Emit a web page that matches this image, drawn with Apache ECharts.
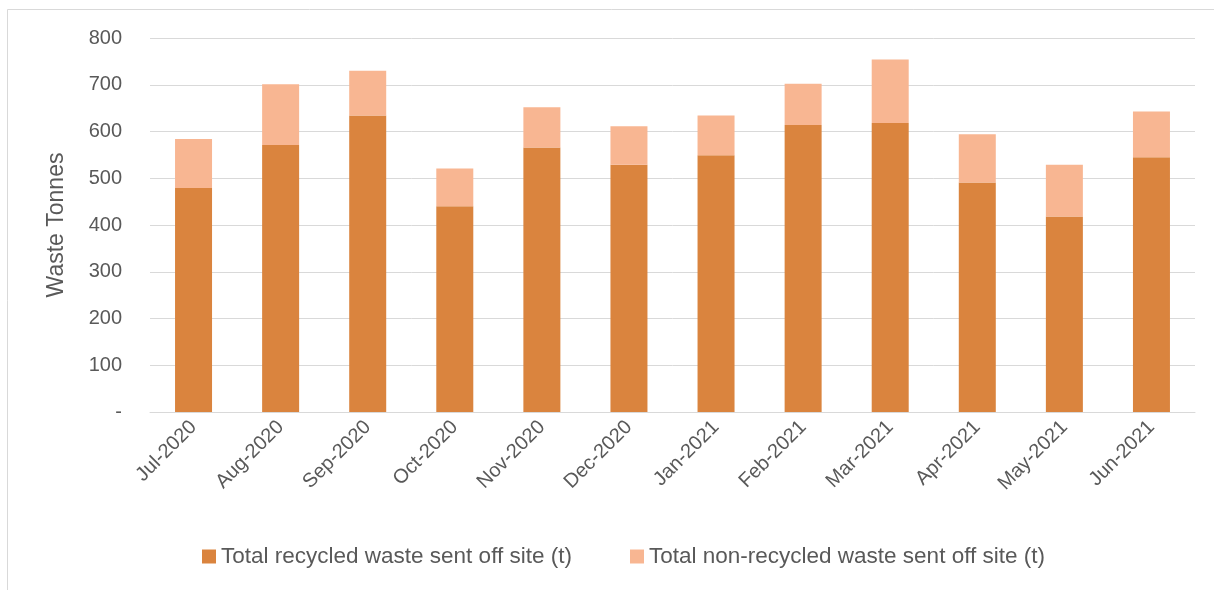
<!DOCTYPE html>
<html>
<head>
<meta charset="utf-8">
<script src="https://cdn.jsdelivr.net/npm/echarts@6/dist/echarts.min.js"></script>
<style>
  html, body { margin:0; padding:0; background:#fff; }
  #chart { width:1214px; height:590px; }
</style>
</head>
<body>
<div id="chart"></div>
<script>
var months = ['Jul-2020','Aug-2020','Sep-2020','Oct-2020','Nov-2020','Dec-2020',
              'Jan-2021','Feb-2021','Mar-2021','Apr-2021','May-2021','Jun-2021'];
var recycled = [479, 571, 634, 440, 566, 529, 549, 614, 618, 491, 418, 545];
var nonRecycled = [105, 130, 96, 81, 86, 82, 85, 88, 136, 103, 111, 98];
var yTicks = [0, 100, 200, 300, 400, 500, 600, 700, 800];

(function() {
  var font = '"Liberation Sans", "DejaVu Sans", sans-serif';
  var txt = '#595959';
  var rule = '#d9d9d9';

  var chart = echarts.init(document.getElementById('chart'), null, {renderer:'canvas'});
  chart.setOption({
    animation:false,
    backgroundColor:'#fff',
    textStyle:{fontFamily:font},
    graphic:[{
      type:'rect', left:5, top:7, silent:true,
      shape:{width:1230, height:600},
      style:{fill:'none', stroke:rule, lineWidth:1}
    }],
    legend:{
      data:['Total recycled waste sent off site (t)','Total non-recycled waste sent off site (t)'],
      bottom:17, left:197,
      itemWidth:14, itemHeight:14, itemGap:58,
      icon:'rect',
      textStyle:{color:txt, fontSize:22.5, fontFamily:font}
    },
    grid:{top:38, bottom:178, left:150, right:19, containLabel:false},
    xAxis:{
      type:'category', data:months,
      axisLine:{lineStyle:{color:rule, width:1}},
      axisTick:{show:false},
      axisLabel:{color:txt, fontSize:20, rotate:45, margin:12, interval:0}
    },
    yAxis:{
      type:'value', min:yTicks[0], max:yTicks[yTicks.length-1], interval:100,
      name:'Waste Tonnes', nameLocation:'middle', nameGap:82, nameRotate:90,
      nameTextStyle:{color:txt, fontSize:23},
      axisLine:{show:false}, axisTick:{show:false},
      axisLabel:{color:txt, fontSize:20, margin:28,
        formatter:function(v){ return v === 0 ? '-' : String(v); }},
      splitLine:{lineStyle:{color:rule, width:1}}
    },
    series:[
      {name:'Total recycled waste sent off site (t)', type:'bar', stack:'w',
       data:recycled, barWidth:37,
       itemStyle:{color:'#da843e'}},
      {name:'Total non-recycled waste sent off site (t)', type:'bar', stack:'w',
       data:nonRecycled, barWidth:37,
       itemStyle:{color:'#f8b692'}}
    ]
  });
})();
</script>
</body>
</html>
